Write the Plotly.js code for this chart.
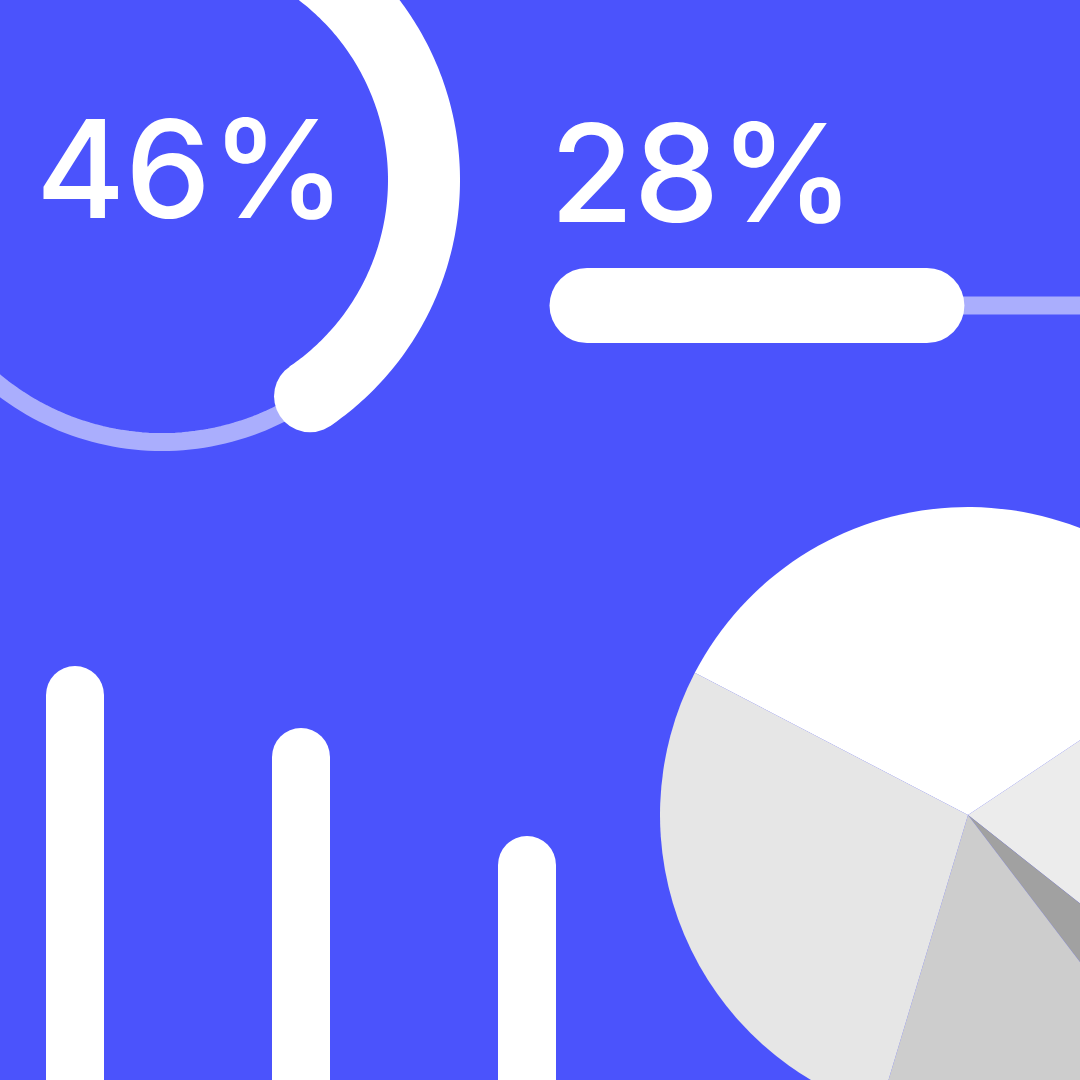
<!DOCTYPE html>
<html>
<head>
<meta charset="utf-8">
<script src="https://cdn.plot.ly/plotly-3.0.1.min.js"></script>
<style>
  html, body { margin: 0; padding: 0; overflow: hidden; background: #4b53fc; width: 1080px; height: 1080px; }
  #chart { width: 1300px; height: 1300px; }
</style>
</head>
<body>
<div id="chart"></div>
<script>
// values
const donutPct = 46;
const progressPct = 28;
const barValues = [385, 323, 215];      // height above the bottom edge
const barX = [75, 301, 527];
const pieLabels = ['A', 'B', 'C', 'D', 'E'];
const pieValues = [33, 20, 4, 15, 28];
const pieColors = ['#ffffff', '#ececec', '#a1a1a1', '#cdcdcd', '#e6e6e6'];

const BLUE = '#4b53fc';
const TRACK = '#aaaefd';
const SIZE = 1300;   // plot is bigger than the window so things run off the edge

// donut geometry
const cx = 162, cy = 180, r = 262;
const endAngle = 145.6;                         // degrees clockwise from 12 o'clock
const startAngle = endAngle - donutPct * 3.6;

function arcPoints(a0, a1) {
    const xs = [], ys = [];
    const n = 240;
    for (let i = 0; i <= n; i++) {
        const a = (a0 + (a1 - a0) * i / n) * Math.PI / 180;
        xs.push(cx + r * Math.sin(a));
        ys.push(cy - r * Math.cos(a));
    }
    return { x: xs, y: ys };
}

const track = arcPoints(0, 360);
const arc = arcPoints(startAngle, endAngle);

// progress bar geometry
const pY = 305.5, pX0 = 587, pLen = 1214;
const pX1 = pX0 + pLen * progressPct / 100;

const bottom = 1080;

const traces = [
    { x: track.x, y: track.y, mode: 'lines', line: { color: TRACK, width: 18, simplify: false }, hoverinfo: 'skip' },
    { x: arc.x, y: arc.y, mode: 'lines', line: { color: '#ffffff', width: 72, simplify: false }, hoverinfo: 'skip' },
    {
        x: [arc.x[0], arc.x[arc.x.length - 1]], y: [arc.y[0], arc.y[arc.y.length - 1]],
        mode: 'markers', marker: { color: '#ffffff', size: 72, line: { width: 0 } }, hoverinfo: 'skip'
    },
    { x: [pX0, pX0 + pLen], y: [pY, pY], mode: 'lines', line: { color: TRACK, width: 18 }, hoverinfo: 'skip' },
    { x: [pX0, pX1], y: [pY, pY], mode: 'lines', line: { color: '#ffffff', width: 75 }, hoverinfo: 'skip' },
    {
        x: [pX0, pX1], y: [pY, pY], mode: 'markers',
        marker: { color: '#ffffff', size: 75, line: { width: 0 } }, hoverinfo: 'skip'
    },
    {
        type: 'bar', x: barX, y: barValues.map(v => -(v + 40)), base: bottom + 40,
        width: 58, marker: { color: '#ffffff', line: { width: 0 } }, hoverinfo: 'skip'
    },
    {
        x: barX, y: barValues.map(v => bottom - v), mode: 'markers',
        marker: { color: '#ffffff', size: 58, line: { width: 0 } }, hoverinfo: 'skip'
    },
    {
        type: 'pie', labels: pieLabels, values: pieValues, sort: false,
        direction: 'clockwise', rotation: -62.5,
        marker: { colors: pieColors, line: { width: 0 } },
        textinfo: 'none', hoverinfo: 'skip', showlegend: false,
        domain: { x: [660 / SIZE, 1276 / SIZE], y: [1 - 1123 / SIZE, 1 - 507 / SIZE] }
    }
];

const textFont = { family: 'Inter', size: 136, weight: 500, color: '#ffffff' };

const layout = {
    width: SIZE, height: SIZE,
    margin: { t: 0, b: 0, l: 0, r: 0, pad: 0 },
    paper_bgcolor: BLUE,
    plot_bgcolor: BLUE,
    showlegend: false,
    bargap: 0,
    xaxis: { range: [0, SIZE], visible: false, fixedrange: true },
    yaxis: { range: [SIZE, 0], visible: false, fixedrange: true },
    annotations: [
        { text: donutPct + '%', x: 34, y: 168, xref: 'x', yref: 'y', xanchor: 'left', yanchor: 'middle', showarrow: false, font: textFont },
        { text: progressPct + '%', x: 548, y: 172, xref: 'x', yref: 'y', xanchor: 'left', yanchor: 'middle', showarrow: false, font: textFont }
    ]
};

Plotly.newPlot('chart', traces, layout, { displayModeBar: false, staticPlot: true });
</script>
</body>
</html>
